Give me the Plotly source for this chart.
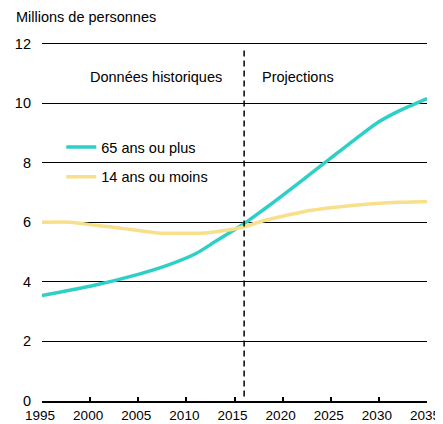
import plotly.graph_objects as go

# 65 ans ou plus (millions)
years_old = [1995, 2000, 2005, 2008, 2011, 2013, 2015, 2016, 2018, 2020, 2022, 2025, 2028, 2030, 2032, 2035]
pop_old = [3.54, 3.85, 4.25, 4.55, 4.95, 5.35, 5.75, 5.95, 6.42, 6.9, 7.4, 8.15, 8.9, 9.37, 9.72, 10.15]

# 14 ans ou moins (millions)
years_young = [1995, 1998, 2000, 2002, 2005, 2007, 2010, 2012, 2014, 2016, 2018, 2020, 2023, 2026, 2029, 2032, 2035]
pop_young = [6.0, 6.0, 5.92, 5.85, 5.72, 5.64, 5.63, 5.64, 5.72, 5.85, 6.05, 6.2, 6.4, 6.52, 6.61, 6.67, 6.70]

x_ticks = [1995, 2000, 2005, 2010, 2015, 2020, 2025, 2030, 2035]
x_labels = [str(v) for v in x_ticks]
y_ticks = [0, 2, 4, 6, 8, 10, 12]
split_year = 2016

font = "Liberation Sans, Arial, sans-serif"
fsize = 14.5

fig = go.Figure()
fig.add_trace(go.Scatter(
    x=years_old, y=pop_old, mode="lines", name="65 ans ou plus",
    line=dict(color="#2ECFC6", width=3.5, shape="spline", smoothing=0.6),
    legendgroup="a",
))
fig.add_trace(go.Scatter(
    x=years_young, y=pop_young, mode="lines", name="14 ans ou moins",
    line=dict(color="#F8DF8C", width=3.5, shape="spline", smoothing=0.6),
    legendgroup="b",
))

# separation historique / projections
fig.add_shape(type="line", xref="x", yref="y", x0=split_year, x1=split_year, y0=0.15, y1=11.8,
              line=dict(color="black", width=1.5, dash="6px,4px"))

fig.add_annotation(x=2006.8, y=10.87, text="Données historiques", showarrow=False,
                   font=dict(size=fsize, color="black"))
fig.add_annotation(x=2021.6, y=10.87, text="Projections", showarrow=False,
                   font=dict(size=fsize, color="black"))
fig.add_annotation(xref="paper", yref="paper", x=-0.073, y=1.07, xanchor="left", yanchor="middle",
                   text="Millions de personnes", showarrow=False, font=dict(size=fsize, color="black"))

# the page body has an 8px margin, so the figure is a little smaller
fig.update_layout(
    width=435, height=416,
    margin=dict(l=34, r=16, t=34, b=23),
    paper_bgcolor="white", plot_bgcolor="white",
    font=dict(family=font, size=fsize, color="black"),
    legend=dict(x=0.05, y=0.752, xanchor="left", yanchor="top",
                bgcolor="rgba(0,0,0,0)", tracegroupgap=8, font=dict(size=fsize)),
    showlegend=True,
)
fig.update_xaxes(
    range=[1995, 2035], tickvals=x_ticks, ticktext=x_labels, showgrid=False, zeroline=False,
    showline=True, linecolor="black", linewidth=2, automargin=False,
    ticks="inside", ticklen=4, tickwidth=2, tickcolor="black",
    ticklabeloverflow="allow", tickfont=dict(size=13.5), ticklabelshift=-2,
    ticklabelstandoff=1,
)
fig.update_yaxes(
    range=[0, 12.05], tickvals=y_ticks, showgrid=True, gridcolor="black", gridwidth=1,
    zeroline=False, showline=False, ticklabelstandoff=10, automargin=False,
)

fig.write_html("out.html")
